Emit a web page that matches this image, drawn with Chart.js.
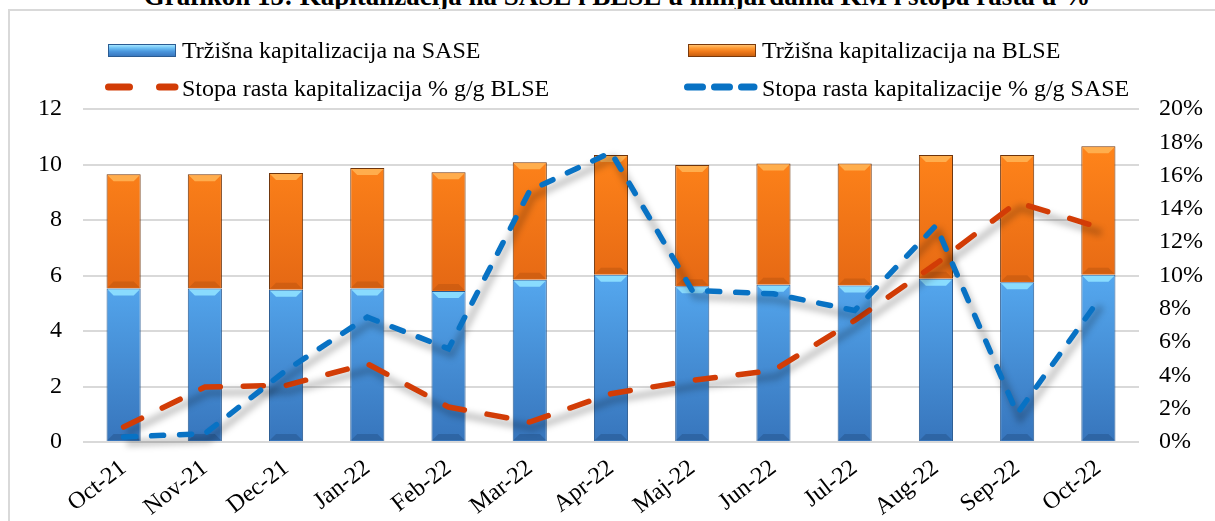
<!DOCTYPE html>
<html lang="bs">
<head>
<meta charset="utf-8">
<title>Grafikon 15</title>
<script src="https://cdn.jsdelivr.net/npm/chart.js@4/dist/chart.umd.min.js"></script>
<style>
    html, body { margin: 0; padding: 0; background: #fff; overflow: hidden; }
    body { width: 1215px; height: 521px; position: relative; font-family: 'Liberation Serif', 'Times New Roman', serif; color: #000; }
    #naslov { position: absolute; left: 0; width: 1234px; top: -17px; text-align: center; font-weight: bold; font-size: 27px; line-height: 27px; white-space: nowrap; }
    #okvir { position: absolute; left: 8px; top: 9px; width: 1230px; height: 540px; border-left: 2px solid #d9d9d9; border-top: 2px solid #d9d9d9; }
    #graf { position: absolute; left: 0; top: 0; }
    .leg { position: absolute; font-size: 24px; line-height: 24px; white-space: nowrap; }
    .sw { position: absolute; box-sizing: border-box; }
    .sw.plava { background: linear-gradient(#a6e6ff 0, #6cc0f4 28%, #4a95dc 60%, #3a78bf 100%); border: 1px solid #2b5c93; }
    .sw.narand { background: linear-gradient(#ffc271 0, #ff9a33 28%, #f07a1a 60%, #c9600f 100%); border: 1px solid #7a3a0c; }
</style>
</head>
<body>
<div id="naslov">Grafikon 15: Kapitalizacija na SASE i BLSE u milijardama KM i stopa rasta u %</div>
<div id="okvir"></div>
<canvas id="graf" width="1215" height="521"></canvas>

<!-- legenda -->
<div class="sw plava" style="left:108px;top:44px;width:68px;height:13px"></div>
<div class="leg" style="left:182px;top:38px">Tržišna kapitalizacija na SASE</div>
<div class="sw narand" style="left:688px;top:44px;width:68px;height:13px"></div>
<div class="leg" style="left:762px;top:38px">Tržišna kapitalizacija na BLSE</div>
<svg style="position:absolute;left:100px;top:81px" width="82" height="12">
    <line x1="8.5" y1="6" x2="75" y2="6" stroke="#d23c06" stroke-width="7" stroke-linecap="round" stroke-dasharray="21 30"/>
</svg>
<div class="leg" style="left:182px;top:76px">Stopa rasta kapitalizacija % g/g BLSE</div>
<svg style="position:absolute;left:680px;top:81px" width="82" height="12">
    <line x1="7.5" y1="6" x2="74" y2="6" stroke="#0872c4" stroke-width="7" stroke-linecap="round" stroke-dasharray="15 12"/>
</svg>
<div class="leg" style="left:762px;top:76px">Stopa rasta kapitalizacije % g/g SASE</div>

<script>
// Podaci - procijenjeni sa slike
const mjeseci = ['Oct-21', 'Nov-21', 'Dec-21', 'Jan-22', 'Feb-22', 'Mar-22', 'Apr-22', 'Maj-22', 'Jun-22', 'Jul-22', 'Aug-22', 'Sep-22', 'Oct-22'];
const kapSASE = [5.53, 5.53, 5.49, 5.53, 5.44, 5.85, 6.03, 5.61, 5.67, 5.64, 5.88, 5.76, 6.03];
const kapBLSE = [4.12, 4.12, 4.20, 4.34, 4.28, 4.23, 4.31, 4.37, 4.37, 4.40, 4.46, 4.58, 4.63];
const rastBLSE = [0.9, 3.3, 3.4, 4.7, 2.1, 1.2, 2.9, 3.7, 4.3, 7.3, 10.7, 14.4, 12.9];
const rastSASE = [0.3, 0.5, 4.3, 7.5, 5.6, 15.1, 17.4, 9.1, 8.9, 7.9, 13.0, 1.7, 8.5];

const FONT = "'Liberation Serif', 'Times New Roman', serif";

// vertikalni gradijent za stubove, racunat preko skale
function gradijent(context, odVr, doVr, boje) {
    const chart = context.chart;
    if (!chart.chartArea) return boje[1];
    const y = chart.scales.y;
    const g = chart.ctx.createLinearGradient(0, y.getPixelForValue(odVr), 0, y.getPixelForValue(doVr));
    g.addColorStop(0, boje[0]);
    g.addColorStop(1, boje[1]);
    return g;
}

// 3D ivice na vrhu i dnu stubova
const kosine = {
    id: 'kosine',
    afterDatasetDraw(chart, args) {
        const meta = args.meta;
        if (meta.type !== 'bar') return;
        const c = chart.ctx;
        const svijetla = args.index === 0 ? 'rgba(140,222,255,0.95)' : 'rgba(255,176,80,0.95)';
        const tamna = args.index === 0 ? 'rgba(36,84,140,0.5)' : 'rgba(170,74,12,0.35)';
        c.save();
        meta.data.forEach(b => {
            const l = b.x - b.width / 2, r = b.x + b.width / 2, k = 7;
            c.fillStyle = svijetla;
            c.beginPath();
            c.moveTo(l + 1, b.y + 1); c.lineTo(r - 1, b.y + 1); c.lineTo(r - k, b.y + k); c.lineTo(l + k, b.y + k);
            c.closePath(); c.fill();
            c.fillStyle = tamna;
            c.beginPath();
            c.moveTo(l + 1, b.base - 1); c.lineTo(r - 1, b.base - 1); c.lineTo(r - k, b.base - k); c.lineTo(l + k, b.base - k);
            c.closePath(); c.fill();
        });
        c.restore();
    }
};

// siva sjena ispod isprekidanih linija
const sjena = {
    id: 'sjena',
    beforeDatasetDraw(chart, args) {
        const meta = args.meta;
        if (meta.type !== 'line') return;
        const c = chart.ctx;
        c.save();
        c.filter = 'blur(3px)';
        c.strokeStyle = 'rgba(0,0,0,0.22)';
        c.lineWidth = 7;
        c.lineJoin = 'round';
        c.beginPath();
        meta.data.forEach((p, i) => i ? c.lineTo(p.x + 3, p.y + 6) : c.moveTo(p.x + 3, p.y + 6));
        c.stroke();
        c.restore();
    }
};

Chart.defaults.font.family = FONT;
Chart.defaults.font.size = 24;
Chart.defaults.color = '#000';

const chart = new Chart(document.getElementById('graf'), {
    data: {
        labels: mjeseci,
        datasets: [{
            type: 'bar',
            label: 'Tržišna kapitalizacija na SASE',
            data: kapSASE,
            yAxisID: 'y',
            stack: 'kap',
            order: 2,
            backgroundColor: ctx => gradijent(ctx, 6, 0, ['#55a8ef', '#3775bc']),
            borderColor: '#2b5c93',
            borderWidth: 1,
            barPercentage: 0.42,
            categoryPercentage: 1
        }, {
            type: 'bar',
            label: 'Tržišna kapitalizacija na BLSE',
            data: kapBLSE,
            yAxisID: 'y',
            stack: 'kap',
            order: 2,
            backgroundColor: ctx => gradijent(ctx, 10.6, 5.5, ['#ff841a', '#e56814']),
            borderColor: '#6e340b',
            borderWidth: 1,
            barPercentage: 0.42,
            categoryPercentage: 1
        }, {
            type: 'line',
            label: 'Stopa rasta kapitalizacija % g/g BLSE',
            data: rastBLSE,
            yAxisID: 'y1',
            order: 1,
            borderColor: '#d23c06',
            borderWidth: 5.5,
            borderDash: [20, 23],
            borderCapStyle: 'round',
            tension: 0,
            pointRadius: 0,
            fill: false
        }, {
            type: 'line',
            label: 'Stopa rasta kapitalizacije % g/g SASE',
            data: rastSASE,
            yAxisID: 'y1',
            order: 0,
            borderColor: '#0872c4',
            borderWidth: 5.5,
            borderDash: [12, 16],
            borderCapStyle: 'round',
            tension: 0,
            pointRadius: 0,
            fill: false
        }]
    },
    options: {
        responsive: false,
        animation: false,
        layout: { padding: { top: 109, left: 0, right: 0, bottom: 0 } },
        plugins: {
            legend: { display: false },
            tooltip: { enabled: false }
        },
        scales: {
            x: {
                stacked: true,
                grid: { display: false },
                border: { display: false },
                ticks: { minRotation: 38, maxRotation: 38, padding: 4, autoSkip: false },
                afterFit: s => { s.height = 79; }
            },
            y: {
                position: 'left',
                stacked: true,
                min: 0, max: 12,
                ticks: { stepSize: 2, padding: 21 },
                grid: { color: '#d9d9d9', lineWidth: 2, drawTicks: false, tickLength: 0 },
                border: { display: false },
                afterFit: s => { s.width = 83; }
            },
            y1: {
                position: 'right',
                min: 0, max: 20,
                ticks: { stepSize: 2, padding: 20, callback: v => v + '%' },
                grid: { display: false, drawTicks: false, tickLength: 0 },
                border: { display: false },
                afterFit: s => { s.width = 76; }
            }
        }
    },
    plugins: [kosine, sjena]
});

console.log('Grafikon nacrtan', chart.chartArea);
</script>
</body>
</html>
